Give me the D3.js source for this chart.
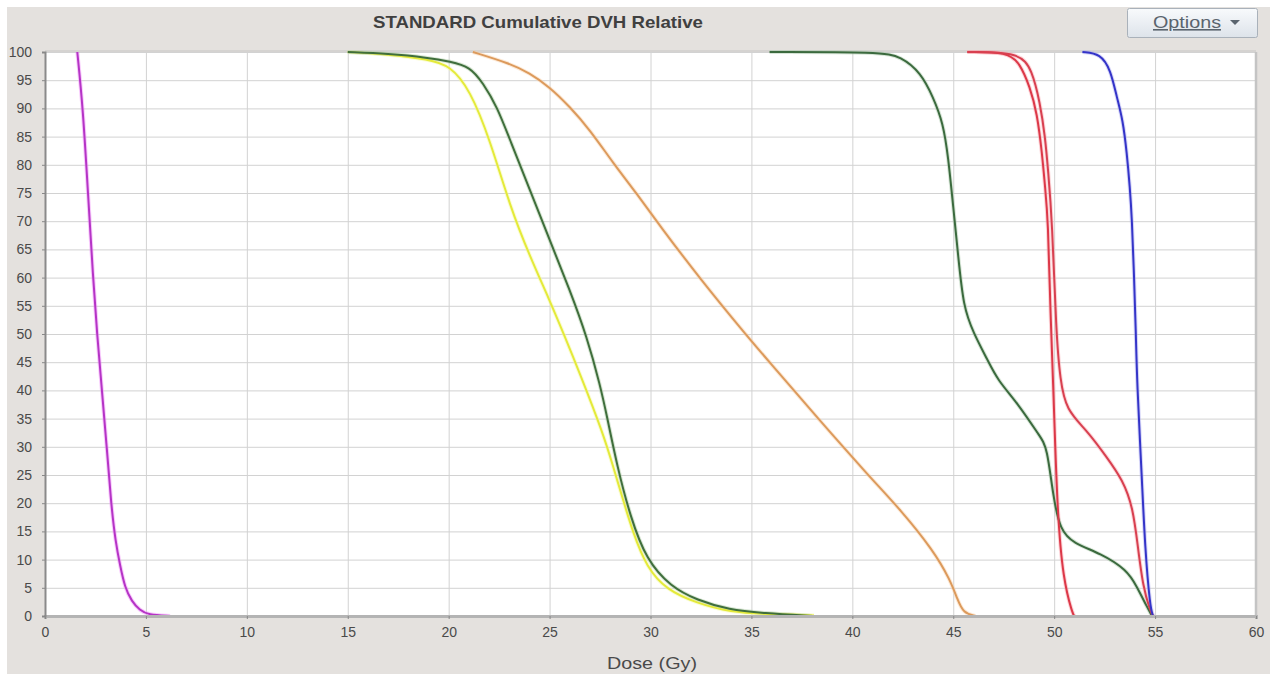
<!DOCTYPE html>
<html>
<head>
<meta charset="utf-8">
<script src="https://cdn.jsdelivr.net/npm/d3@7"></script>
<style>
  html, body { margin: 0; padding: 0; background: #ffffff; }
  svg { display: block; font-family: "Liberation Sans", Arial, sans-serif; }
</style>
</head>
<body>
<svg id="chart" width="1278" height="674"></svg>
<script>
// DVH curves, [dose (Gy), volume (%)]
const magenta = [[1.6,100],[1.88,90],[2.13,75],[2.38,60],[2.58,50],[2.82,40],[3.06,30],[3.27,20],[3.5,13],[3.72,9],[3.96,5],[4.3,2.6],[4.7,1],[5.1,0.2],[6.2,0]];
const yellow = [[15,100],[17,99.6],[19,98.7],[20.07,97.6],[21.06,93.3],[22.05,84.4],[23.04,72.6],[24.03,63.7],[25.0,56],[25.7,50],[26.5,43],[27.65,32.4],[28.15,26.5],[28.64,20.6],[29.14,14.7],[29.8,8.7],[30.8,4.6],[32.3,2.3],[33.9,0.7],[36,0.3],[38.1,0.1]];
const green1 = [[15,100],[17,99.7],[19,99],[20.07,98.3],[21.06,97.4],[21.7,94.5],[22.4,90.3],[23.04,84.4],[24.03,75.5],[25.0,66.7],[26.0,57.8],[26.85,49.5],[27.5,41],[27.85,35.3],[28.35,26.5],[29.0,17.6],[29.8,9.9],[31.0,5.2],[32.3,2.8],[33.9,1.1],[35.6,0.5],[38,0]];
const orange = [[21.2,100],[23.0,98],[24.0,96.3],[25.0,93.8],[26.0,90.3],[27.0,86.2],[28.15,80.3],[29.3,75],[30.5,69],[32.5,59.6],[34.7,50],[35.8,45.4],[38.3,35],[40.9,24.5],[42.4,18.8],[44.0,11.7],[44.85,6.4],[45.2,3],[45.5,0.5],[46.1,0]];
const green2 = [[35.9,100],[41.4,100],[42.4,99.2],[43.4,96.3],[44.0,92.0],[44.5,87.4],[44.75,81.4],[45.0,72.5],[45.25,63.7],[45.5,54.8],[46.0,50.2],[46.7,45.4],[47.2,41.8],[48.2,37.7],[49.3,31.8],[49.65,30],[49.95,21.1],[50.3,15.2],[50.95,12.9],[52.3,11.1],[53.6,8.2],[54.1,5.2],[54.6,1.6],[54.85,0]];
const redA = [[45.7,100],[47.7,100],[48.3,98],[48.8,93.8],[49.15,89.2],[49.4,82.1],[49.55,76],[49.7,70.2],[49.8,55],[49.95,41.8],[50.15,18.3],[50.45,6.4],[50.9,0.5],[51.0,0]];
const redB = [[45.7,100],[48.3,100],[48.9,96.8],[49.3,91],[49.55,85],[49.7,79],[49.9,70.2],[50.1,50],[50.3,41.8],[50.6,36.5],[51.6,33],[52.6,28.2],[53.4,24.1],[53.9,19.3],[54.15,12.2],[54.4,5.2],[54.75,1],[54.9,0]];
const blue = [[51.4,100],[52.3,99.7],[52.8,96.8],[53.1,92],[53.4,88],[53.6,82.1],[53.75,76],[53.85,70.7],[53.96,60],[54.05,50],[54.1,41.8],[54.35,24.1],[54.5,12.2],[54.75,1.6],[54.9,0]];

const xTicks = d3.range(0, 61, 5);
const yTicks = d3.range(0, 101, 5);

const curves = [
    { data: magenta, color: '#b534c6', halo: '#f08cf8' },
    { data: orange, color: '#dc9a5c', halo: '#f8d0a8' },
    { data: yellow, color: '#e4ea3a', halo: '#f4f8a0' },
    { data: green1, color: '#3f6e3c', halo: '#a8c8a0' },
    { data: green2, color: '#3b6a3e', halo: '#a8c8a8' },
    { data: redA, color: '#dc3848', halo: '#f8a0a8' },
    { data: redB, color: '#d84050', halo: '#f8a8b0' },
    { data: blue, color: '#3434c8', halo: '#a8a8f0' }
];

const svg = d3.select('#chart');

// panel background
svg.append('rect')
    .attr('x', 7).attr('y', 7)
    .attr('width', 1263).attr('height', 667)
    .attr('fill', '#e4e1de');

const x = d3.scaleLinear().domain([0, 60]).range([45, 1256]);
const y = d3.scaleLinear().domain([0, 100]).range([616, 52]);

// plot area
svg.append('rect')
    .attr('x', x(0)).attr('y', y(100))
    .attr('width', x(60) - x(0)).attr('height', y(0) - y(100))
    .attr('fill', '#ffffff');

// grid
const grid = svg.append('g');
grid.append('g')
    .attr('transform', `translate(0,${y(0)})`)
    .call(d3.axisBottom(x).tickValues(xTicks).tickSize(-(y(0) - y(100))).tickFormat(''))
    .call(g => g.select('.domain').remove())
    .selectAll('line').attr('stroke', '#d2d2d2');
grid.append('g')
    .attr('transform', `translate(${x(0)},0)`)
    .call(d3.axisLeft(y).tickValues(yTicks).tickSize(-(x(60) - x(0))).tickFormat(''))
    .call(g => g.select('.domain').remove())
    .selectAll('line').attr('stroke', '#d2d2d2');

// frame lines (under the curves)
svg.append('line')
    .attr('x1', x(60)).attr('x2', x(60)).attr('y1', y(100)).attr('y2', y(0))
    .attr('stroke', '#c4c4c4').attr('stroke-width', 2.5);
svg.append('line')
    .attr('x1', x(0)).attr('x2', x(60)).attr('y1', y(100) - 1).attr('y2', y(100) - 1)
    .attr('stroke', '#d0cecc').attr('stroke-width', 1.5);

// curves
const line = d3.line()
    .x(d => x(d[0]))
    .y(d => y(d[1]))
    .curve(d3.curveBasis);

const curveG = svg.append('g');
curves.forEach(c => {
    curveG.append('path')
        .datum(c.data)
        .attr('d', line)
        .attr('fill', 'none')
        .attr('stroke', c.halo)
        .attr('stroke-width', 4)
        .attr('stroke-opacity', 0.45)
        .attr('stroke-linejoin', 'round');
});
curves.forEach(c => {
    curveG.append('path')
        .datum(c.data)
        .attr('d', line)
        .attr('fill', 'none')
        .attr('stroke', c.color)
        .attr('stroke-width', 2)
        .attr('stroke-linejoin', 'round');
});

// axes
const xAxis = svg.append('g')
    .attr('transform', `translate(0,${y(0)})`)
    .call(d3.axisBottom(x).tickValues(xTicks).tickSize(3).tickPadding(8));
xAxis.select('.domain').attr('stroke', '#b4b4b4').attr('stroke-width', 3);
xAxis.selectAll('line').attr('stroke', '#888');
xAxis.selectAll('text').attr('fill', '#4a4a4a').attr('font-size', 14);

const yAxis = svg.append('g')
    .attr('transform', `translate(${x(0)},0)`)
    .call(d3.axisLeft(y).tickValues(yTicks).tickSize(3).tickPadding(10));
yAxis.select('.domain').attr('stroke', '#8a8a8a').attr('stroke-width', 2);
yAxis.selectAll('line').attr('stroke', '#888');
yAxis.selectAll('text').attr('fill', '#4a4a4a').attr('font-size', 14);

// title
svg.append('text')
    .attr('x', 538).attr('y', 28)
    .attr('text-anchor', 'middle')
    .attr('font-size', 17)
    .attr('font-weight', 'bold')
    .attr('fill', '#404040')
    .attr('textLength', 330)
    .attr('lengthAdjust', 'spacingAndGlyphs')
    .text('STANDARD Cumulative DVH Relative');

// x label
svg.append('text')
    .attr('x', 652).attr('y', 669)
    .attr('text-anchor', 'middle')
    .attr('font-size', 17)
    .attr('fill', '#4a4a4a')
    .attr('textLength', 90)
    .attr('lengthAdjust', 'spacingAndGlyphs')
    .text('Dose (Gy)');

// options button
const defs = svg.append('defs');
const grad = defs.append('linearGradient')
    .attr('id', 'btnGrad').attr('x1', 0).attr('x2', 0).attr('y1', 0).attr('y2', 1);
grad.append('stop').attr('offset', '0%').attr('stop-color', '#f8fafc');
grad.append('stop').attr('offset', '100%').attr('stop-color', '#dde3ea');

const btn = svg.append('g');
btn.append('rect')
    .attr('x', 1127.5).attr('y', 8.5)
    .attr('width', 130).attr('height', 29)
    .attr('rx', 2)
    .attr('fill', 'url(#btnGrad)')
    .attr('stroke', '#a9b1ba');
btn.append('text')
    .attr('x', 1187).attr('y', 28)
    .attr('text-anchor', 'middle')
    .attr('font-size', 16)
    .attr('fill', '#5a646e')
    .attr('text-decoration', 'underline')
    .attr('textLength', 68)
    .attr('lengthAdjust', 'spacingAndGlyphs')
    .text('Options');
btn.append('path')
    .attr('d', 'M1230,20 L1240,20 L1235,25 Z')
    .attr('fill', '#5a646e');
</script>
</body>
</html>
